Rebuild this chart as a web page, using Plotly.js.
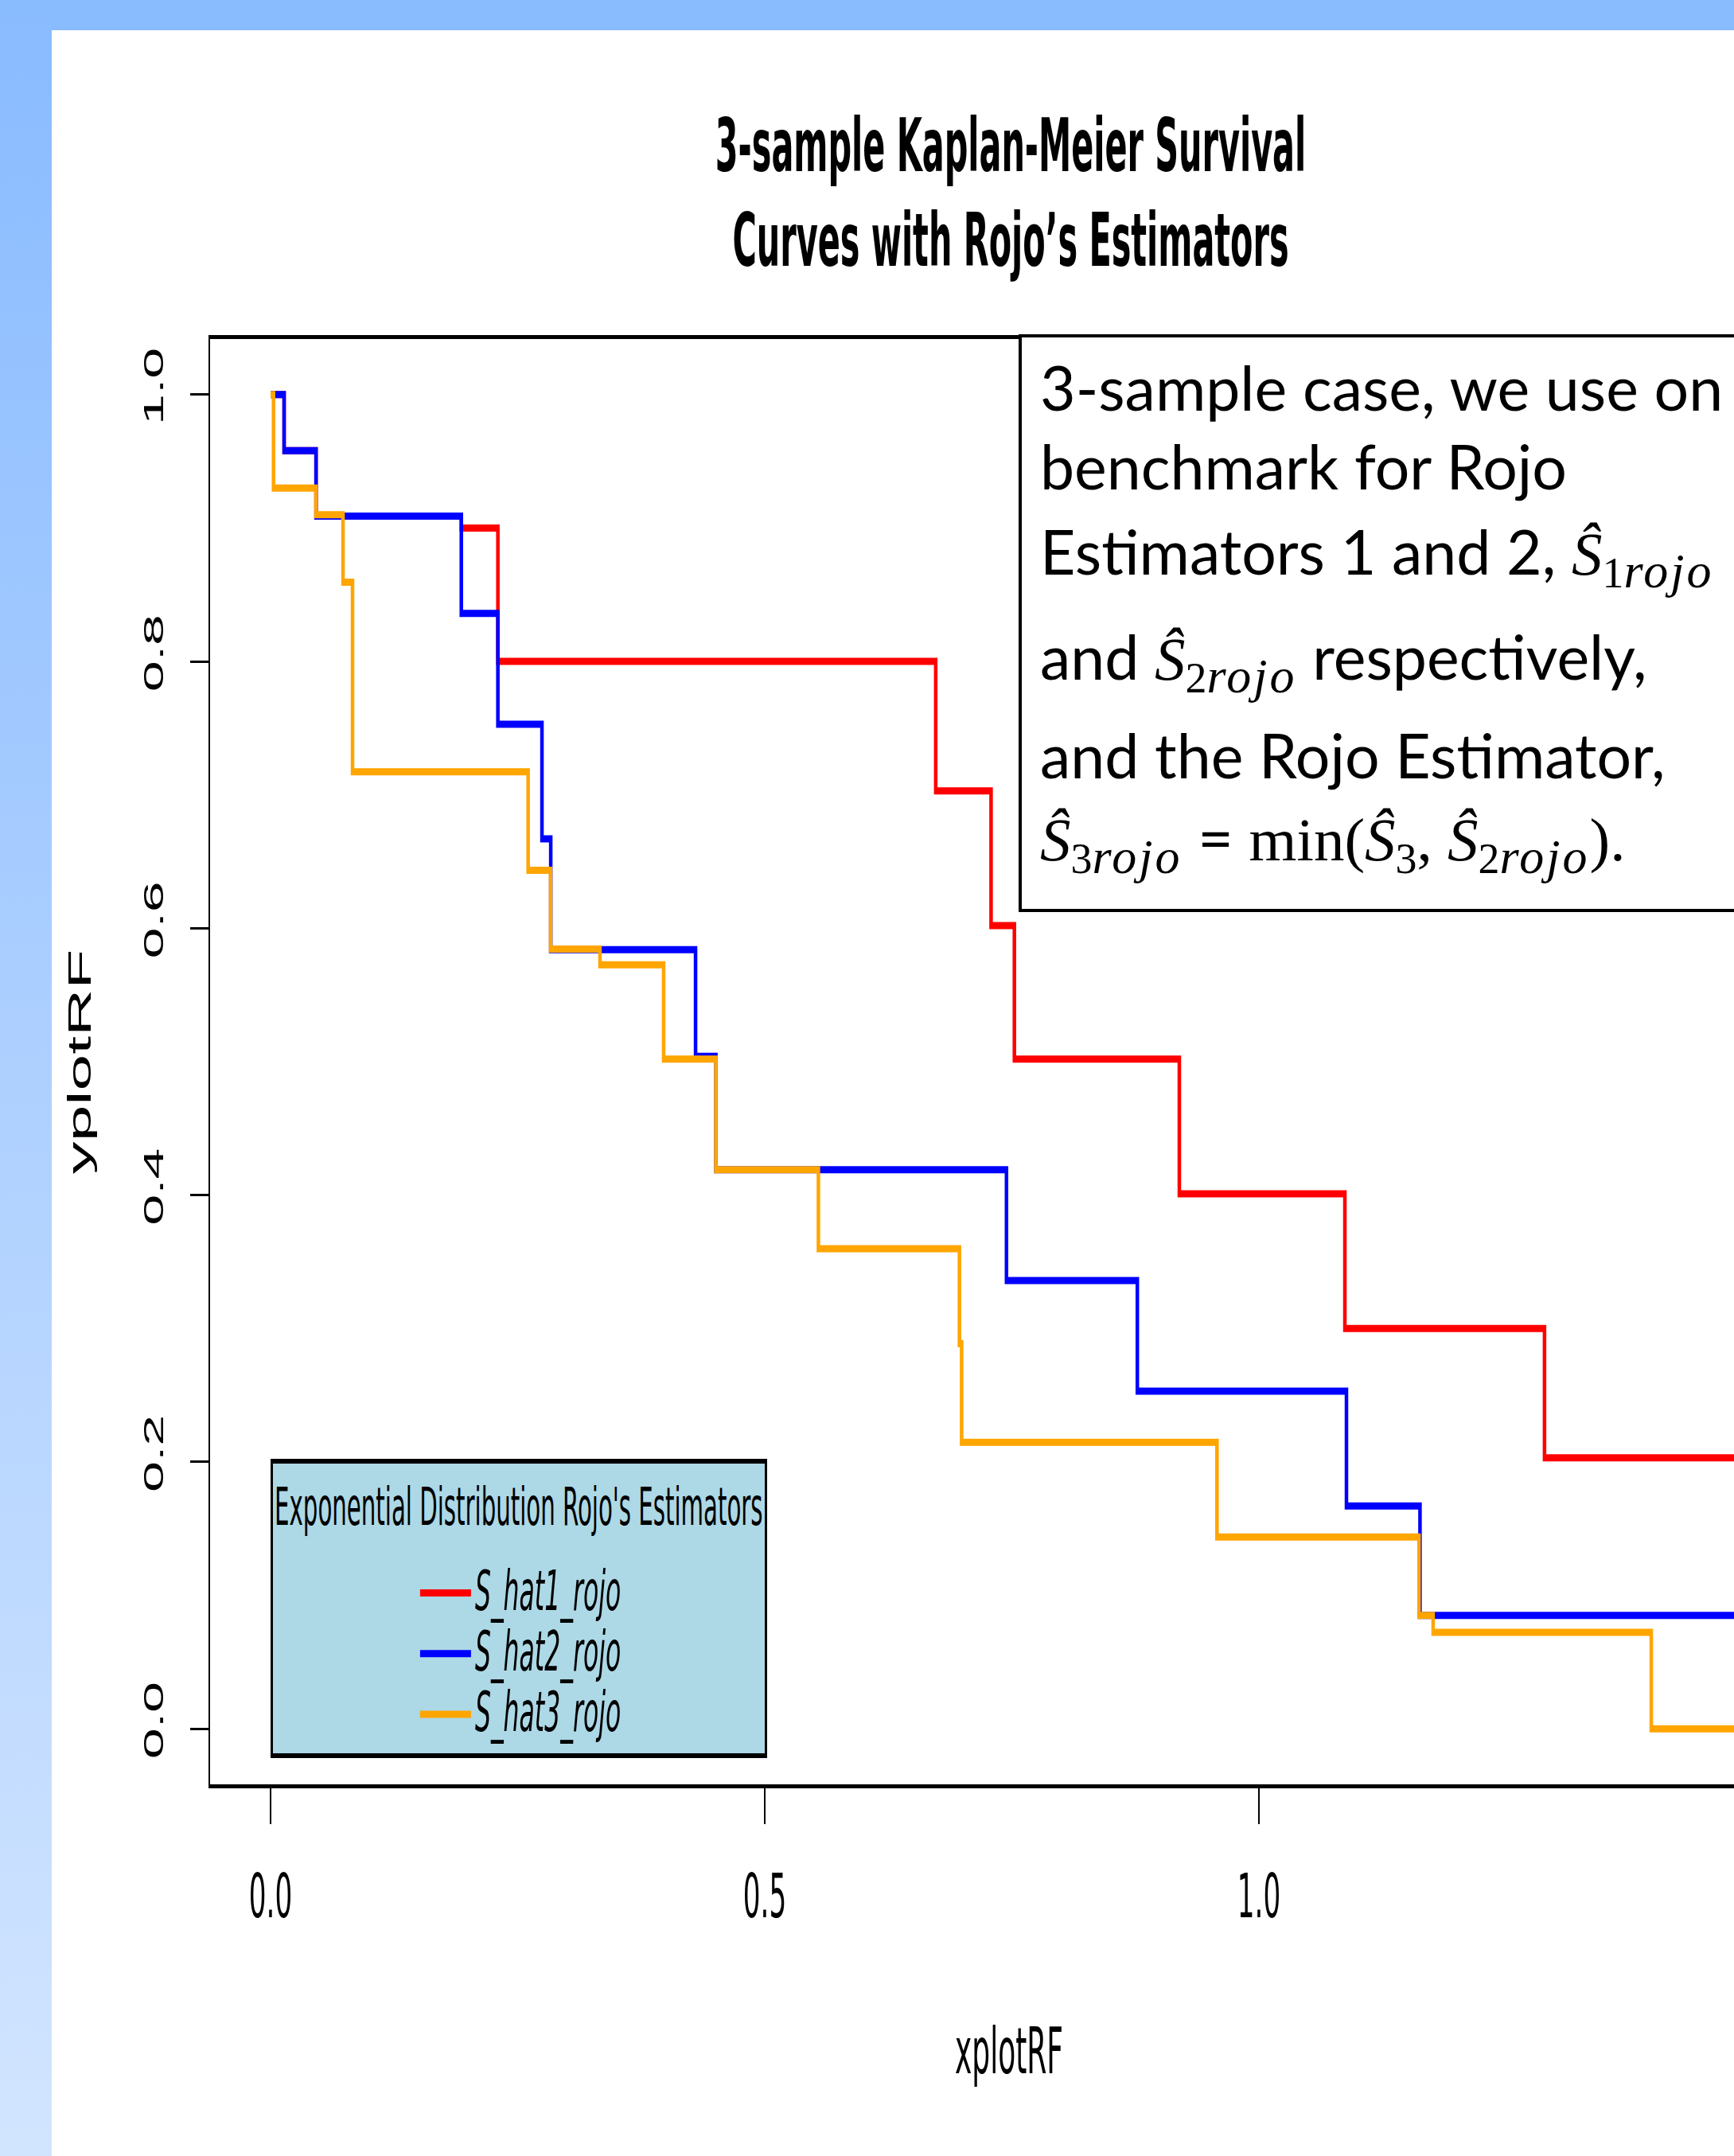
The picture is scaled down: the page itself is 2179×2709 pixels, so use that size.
<!DOCTYPE html>
<html>
<head>
<meta charset="utf-8">
<script src="https://cdn.plot.ly/plotly-3.0.1.min.js"></script>
<style>
  html, body { margin:0; padding:0; overflow:hidden; width:2179px; height:2709px; background:#ffffff; }
  #bandTop { position:absolute; left:0; top:0; width:2179px; height:38px; background:#89BBFF; }
  #bandLeft { position:absolute; left:0; top:0; width:65px; height:2709px; background:linear-gradient(#89BBFF, #D2E5FF); }
  /* the original R figure was stretched vertically on the slide */
  #plot { position:absolute; left:0; top:0; width:2285px; height:1355px; transform:scaleY(2); transform-origin:0 0; }
  #note { position:absolute; left:0; top:0; width:2179px; height:2709px; }
</style>
</head>
<body>
<div id="bandTop"></div>
<div id="bandLeft"></div>
<div id="plot"></div>
<div id="note"></div>
<script>
// ---- data ----
const seriesNames = ['S_hat1_rojo', 'S_hat2_rojo', 'S_hat3_rojo'];
const seriesColors = ['#FF0000', '#0000FF', '#FFA500'];

const xHat1 = [0, 0.0137, 0.046, 0.193, 0.230, 0.673, 0.729, 0.7526, 0.9195, 1.087, 1.289, 1.53];
const yHat1 = [1.0, 0.958, 0.909, 0.900, 0.800, 0.703, 0.602, 0.502, 0.401, 0.300, 0.203, 0.203];

const xHat2 = [0, 0.0137, 0.046, 0.193, 0.230, 0.2746, 0.2835, 0.430, 0.4506, 0.7446, 0.877, 1.0886, 1.163, 1.53];
const yHat2 = [1.0, 0.958, 0.909, 0.836, 0.753, 0.667, 0.584, 0.504, 0.419, 0.336, 0.253, 0.167, 0.085, 0.085];

const xHat3 = [0, 0.003, 0.046, 0.0733, 0.0829, 0.2606, 0.2833, 0.3333, 0.3977, 0.4506, 0.5543, 0.697, 0.6992, 0.9576, 1.162, 1.1763, 1.397, 1.53];
const yHat3 = [1.0, 0.930, 0.910, 0.8595, 0.7173, 0.6434, 0.5844, 0.5727, 0.502, 0.419, 0.3598, 0.2887, 0.2147, 0.1437, 0.085, 0.0723, 0.0, 0.0];

const yTickVals = [0, 0.2, 0.4, 0.6, 0.8, 1.0];
const yTickText = ['0.0', '0.2', '0.4', '0.6', '0.8', '1.0'];
const xTickVals = [0, 0.5, 1.0];
const xTickText = ['0.0', '0.5', '1.0'];

const chartTitle = '3-sample Kaplan-Meier Survival<br>Curves with Rojo\u2019s Estimators';
const xLabel = 'xplotRF';
const yLabel = 'yplotRF';
const legendTitle = 'Exponential Distribution Rojo\'s Estimators';

const M = 'style="font-family:Liberation Serif"';
const R = '<i style="font-size:62px;letter-spacing:3px">rojo</i>';
const noteLines = [
  '3-sample case, we use on',
  'benchmark for Rojo',
  'Estimators 1 and 2, <span ' + M + '><i>\u015C</i><sub>1' + R + '</sub></span>',
  'and <span ' + M + '><i>\u015C</i><sub>2' + R + '</sub></span> respectively,',
  'and the Rojo Estimator,',
  '<span ' + M + '><i>\u015C</i><sub>3' + R + '</sub></span> = <span ' + M + '>min(<i>\u015C</i><sub>3</sub>, <i>\u015C</i><sub>2' + R + '</sub>).</span>'
];
const noteY = [0.8206, 0.7841, 0.7420, 0.6936, 0.6501, 0.6098];

// ---- styling ----
const narrow = "'Liberation Sans Narrow', 'DejaVu Sans Condensed', 'Liberation Sans', Arial, sans-serif";
const plain = "'Liberation Sans', Arial, sans-serif";

const xs = [xHat1, xHat2, xHat3];
const ys = [yHat1, yHat2, yHat3];
const traces = xs.map((x, i) => ({
  type: 'scatter', mode: 'lines',
  x: x, y: ys[i],
  name: '<span style="font-size:35px">' + seriesNames[i] + '</span>',
  legendgroup: 'g' + i,
  line: { color: seriesColors[i], width: 4.5, shape: 'hv' }
}));

const layout = {
  width: 2285, height: 1355,
  margin: { l: 264, r: 13, t: 213, b: 234 },
  paper_bgcolor: 'rgba(0,0,0,0)', plot_bgcolor: 'rgba(0,0,0,0)',
  showlegend: true,
  title: {
    text: chartTitle, xref: 'container', yref: 'container',
    x: 0.5558, xanchor: 'center', y: 0.9208, yanchor: 'middle',
    font: { family: narrow, size: 46, color: '#000', weight: 'bold' }
  },
  xaxis: {
    range: [-0.0612, 1.5556], showgrid: false, zeroline: false,
    showline: true, linecolor: '#000', linewidth: 2.4, mirror: true,
    ticks: 'outside', ticklen: 22.5, tickwidth: 1.6, tickcolor: '#000',
    tickvals: xTickVals, ticktext: xTickText, ticklabelstandoff: 13,
    tickfont: { family: narrow, size: 38, color: '#000' },
    title: { text: xLabel, standoff: 62, font: { family: narrow, size: 40, color: '#000' } }
  },
  yaxis: {
    range: [-0.04167, 1.04167], showgrid: false, zeroline: false,
    showline: true, linecolor: '#000', linewidth: 2, mirror: true,
    ticks: 'outside', ticklen: 23, tickwidth: 1.5, tickcolor: '#000',
    tickvals: yTickVals, ticktext: yTickText, tickangle: -90, ticklabelstandoff: 20,
    tickfont: { family: plain, size: 35, color: '#000' },
    title: { text: yLabel, standoff: 46, font: { family: plain, size: 41, color: '#000' } }
  },
  legend: {
    x: 0.0378, y: 0.2252, xanchor: 'left', yanchor: 'top',
    bgcolor: '#ADD8E6', bordercolor: '#000', borderwidth: 3,
    title: { text: '<sup><span style="font-size:32.5px">' + legendTitle + '</span></sup>', side: 'top center',
             font: { family: narrow, size: 44, color: '#000', style: 'normal', weight: 'normal' } },
    font: { family: narrow, size: 27, color: '#000', style: 'italic' },
    indentation: 180, tracegroupgap: 0, itemwidth: 64
  }
};

Plotly.newPlot('plot', traces, layout, { staticPlot: true, displayModeBar: false });

// ---- slide text box laid over the figure (not stretched) ----
const noteAnnotations = noteLines.map((t, i) => ({
  text: t, xref: 'paper', yref: 'paper', x: 1305 / 2179, y: noteY[i],
  xanchor: 'left', yanchor: 'middle', align: 'left', showarrow: false,
  font: { family: "Lato, 'Open Sans', sans-serif", size: 77, color: '#000' }
}));
const noteLayout = {
  width: 2179, height: 2709,
  margin: { l: 0, r: 0, t: 0, b: 0 },
  paper_bgcolor: 'rgba(0,0,0,0)', plot_bgcolor: 'rgba(0,0,0,0)',
  xaxis: { visible: false, range: [0, 1] },
  yaxis: { visible: false, range: [0, 1] },
  showlegend: false,
  shapes: [{
    type: 'rect', xref: 'paper', yref: 'paper',
    x0: 1282 / 2179, x1: 1.03, y0: 1 - 1144 / 2709, y1: 1 - 422 / 2709,
    line: { color: '#000', width: 4 }, fillcolor: '#ffffff', layer: 'below'
  }],
  annotations: noteAnnotations
};
Plotly.newPlot('note', [], noteLayout, { staticPlot: true, displayModeBar: false });
</script>
</body>
</html>
